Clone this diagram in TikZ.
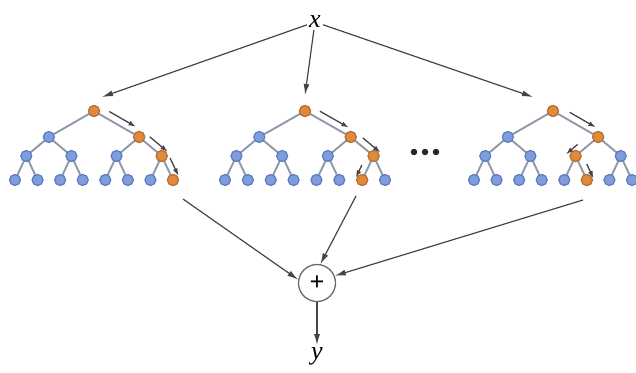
\documentclass[tikz,border=0pt]{standalone}
\usepackage{fontspec}
\setmainfont{Liberation Serif}
\usetikzlibrary{arrows.meta,calc,backgrounds}
\definecolor{nblue}{HTML}{7F9DDC}
\definecolor{nblueb}{HTML}{5A7BC2}
\definecolor{norange}{HTML}{E08A3C}
\definecolor{norangeb}{HTML}{C46F2A}
\definecolor{tedgec}{HTML}{8E98AA}
\definecolor{arrc}{HTML}{454545}
\tikzset{
  bnode/.style={circle,fill=nblue,draw=nblueb,line width=1.2pt,minimum size=11pt,inner sep=0pt},
  onode/.style={circle,fill=norange,draw=norangeb,line width=1.2pt,minimum size=11pt,inner sep=0pt},
  tedge/.style={draw=tedgec,line width=1.9pt},
  parr/.style={draw=arrc,line width=1.3pt,-{Latex[length=7.5pt,width=5pt]}},
  marr/.style={draw=arrc,line width=1.2pt,-{Latex[length=11pt,width=6pt]}},
  lbl/.style={font=\fontsize{26}{26}\selectfont\itshape,inner sep=2pt},
  dotc/.style={circle,fill=black!85,minimum size=6.5pt,inner sep=0pt}
}
\newcommand\mytree[3]{%
  \foreach \i in {0,...,7}{\pgfmathtruncatemacro\k{8+\i}\node[bnode] (#1n\k) at ({#2+\i*#3},180) {};}
  \foreach \i in {0,...,3}{\pgfmathtruncatemacro\k{4+\i}\node[bnode] (#1n\k) at ({#2+(2*\i+0.5)*#3},156) {};}
  \foreach \i in {0,1}{\pgfmathtruncatemacro\k{2+\i}\node[bnode] (#1n\k) at ({#2+(4*\i+1.5)*#3},137) {};}
  \node[bnode] (#1n1) at ({#2+3.5*#3},111) {};
  \begin{pgfonlayer}{background}
    \foreach \k in {2,...,15}{\pgfmathtruncatemacro\p{\k/2}\draw[tedge] (#1n\p.center) -- (#1n\k.center);}
  \end{pgfonlayer}
}
\begin{document}
\begin{tikzpicture}[x=1pt,y=-1pt]
\useasboundingbox (0,0) rectangle (636,372);

% trees
\mytree{a}{15}{22.57}
\mytree{b}{225}{22.86}
\mytree{c}{474}{22.57}

% orange paths
\foreach \k in {1,3,7,15}{\node[onode] (an\k) at (an\k) {};}
\foreach \k in {1,3,7,14}{\node[onode] (bn\k) at (bn\k) {};}
\foreach \k in {1,3,6,13}{\node[onode] (cn\k) at (cn\k) {};}

% path arrows
\draw[parr] ($(an1)!0.25!(an3)+(4,-6)$) -- ($(an1)!0.84!(an3)+(4,-6)$);
\draw[parr] ($(an3)!0.25!(an7)+(5,-5)$) -- ($(an3)!1.05!(an7)+(5,-5)$);
\draw[parr] ($(an7)!0.21!(an15)+(6,-3)$) -- ($(an7)!0.95!(an15)+(6,-3)$);

\draw[parr] ($(bn1)!0.24!(bn3)+(4,-6)$) -- ($(bn1)!0.87!(bn3)+(4,-6)$);
\draw[parr] ($(bn3)!0.31!(bn7)+(5,-5)$) -- ($(bn3)!1.08!(bn7)+(5,-5)$);
\draw[parr] ($(bn7)!0.5!(bn14)+(-6,-3)$) -- ($(bn7)!1.03!(bn14)+(-6,-3)$);

\draw[parr] ($(cn1)!0.28!(cn3)+(4,-6)$) -- ($(cn1)!0.86!(cn3)+(4,-6)$);
\draw[parr] ($(cn3)!0.6!(cn6)+(-7,-4)$) -- ($(cn3)!1.12!(cn6)+(-7,-4)$);
\draw[parr] ($(cn6)!0.46!(cn13)+(6,-3)$) -- ($(cn6)!1.06!(cn13)+(6,-3)$);

% dots
\node[dotc] (d1) at (414,152) {};
\node[dotc] (d2) at (425,152) {};
\node[dotc] (d3) at (436,152) {};

% input and output
\node[lbl] (x) at (315,22) {x};
\node[circle,draw=arrc!80,line width=1.3pt,minimum size=37pt,inner sep=0pt,
      font=\fontsize{26}{26}\selectfont\bfseries] (plus) at (317,283) {+};
\node[lbl] (y) at (317,356) {y};

% arrows from x to trees
\coordinate (ea) at ($(an1)+(8,-14)$);
\coordinate (eb) at ($(bn1)+(0,-16)$);
\coordinate (ec) at ($(cn1)+(-20,-14)$);
\draw[marr] (x) -- (ea);
\draw[marr] (x) -- (eb);
\draw[marr] (x) -- (ec);

% arrows from trees to plus
\coordinate (sa) at (183,199);
\coordinate (sb) at (356,196);
\coordinate (sc) at (583,200);
\draw[marr] (sa) -- (plus.170);
\draw[marr] (sb) -- (plus.80);
\draw[marr] (sc) -- (plus.22);

% output arrow
\draw[marr] (plus) -- (y);
\end{tikzpicture}
\end{document}
